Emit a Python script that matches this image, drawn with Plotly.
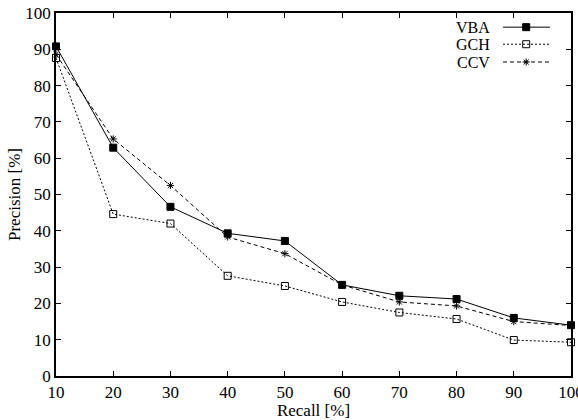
import plotly.graph_objects as go

recall = [10, 20, 30, 40, 50, 60, 70, 80, 90, 100]
vba = [90.8, 62.9, 46.6, 39.3, 37.2, 25.1, 22.1, 21.2, 16.0, 14.0]
gch = [87.6, 44.6, 42.0, 27.6, 24.8, 20.4, 17.5, 15.7, 9.9, 9.3]
ccv = [88.6, 65.3, 52.5, 38.3, 33.7, 25.1, 20.4, 19.3, 15.0, 13.9]
x_ticks = [10, 20, 30, 40, 50, 60, 70, 80, 90, 100]
y_ticks = [0, 10, 20, 30, 40, 50, 60, 70, 80, 90, 100]

series = [
    ("VBA", vba, "solid", "square"),
    ("GCH", gch, "2px,2px", "square-open"),
    ("CCV", ccv, "4px,3px", "asterisk-open"),
]

FONT = "Liberation Serif"


def mk(sym):
    return dict(symbol=sym, size=7 if sym != "asterisk-open" else 6,
                color="black", line=dict(color="black", width=1))


fig = go.Figure()
for name, vals, dash, sym in series:
    fig.add_trace(go.Scatter(
        x=recall, y=vals, name=name, mode="lines+markers",
        line=dict(color="black", width=1, dash=dash),
        marker=mk(sym), showlegend=False, cliponaxis=False))

# custom legend (text left, sample right) drawn on an overlay axis
leg_y = [0.961, 0.914, 0.865]
for (name, vals, dash, sym), yy in zip(series, leg_y):
    fig.add_trace(go.Scatter(
        x=[0.868, 0.959], y=[yy, yy], xaxis="x2", yaxis="y2", mode="lines",
        line=dict(color="black", width=1, dash=dash), showlegend=False, hoverinfo="skip"))
    fig.add_trace(go.Scatter(
        x=[0.913], y=[yy], xaxis="x2", yaxis="y2", mode="markers",
        marker=mk(sym), showlegend=False, hoverinfo="skip"))
    fig.add_annotation(x=0.847, y=yy, xref="paper", yref="paper", text=name,
                       showarrow=False, xanchor="right", yanchor="middle",
                       font=dict(family=FONT, size=16, color="black"))

axis_common = dict(showgrid=False, zeroline=False, ticks="inside", ticklen=5,
                   tickcolor="black", tickwidth=1, showline=True, linecolor="black",
                   linewidth=1.5, mirror="ticks", ticklabeloverflow="allow",
                   automargin=False,
                   tickfont=dict(family=FONT, size=17, color="black"))

fig.update_layout(
    width=578, height=420, margin=dict(l=56, r=7, t=13, b=44),
    plot_bgcolor="white", paper_bgcolor="white",
    font=dict(family=FONT, color="black"),
    xaxis=dict(range=[10, 100], tickvals=x_ticks,
               title=dict(text="Recall [%]", font=dict(family=FONT, size=17), standoff=0),
               **axis_common),
    yaxis=dict(range=[0, 100], tickvals=y_ticks,
               title=dict(text="Precision [%]", font=dict(family=FONT, size=17), standoff=0),
               **axis_common),
    xaxis2=dict(overlaying="x", range=[0, 1], visible=False),
    yaxis2=dict(overlaying="y", range=[0, 1], visible=False),
)

fig.write_html("out.html", config={"displayModeBar": False},
               post_script="document.body.style.margin='0';document.body.style.overflow='hidden';")
